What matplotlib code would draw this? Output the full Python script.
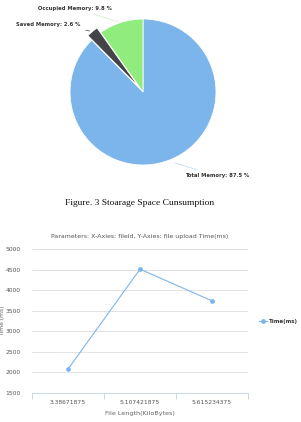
import matplotlib.pyplot as plt
import numpy as np

# pie data
mem_labels = ['Total Memory', 'Saved Memory', 'Occupied Memory']
mem_pct = [87.5, 2.6, 9.8]
mem_colors = ['#7cb5ec', '#434348', '#90ed7d']

# line data
file_len = ['3.38671875', '5.107421875', '5.615234375']
upload_ms = [2080, 4510, 3740]
yticks = [1500, 2000, 2500, 3000, 3500, 4000, 4500, 5000]

W, H = 301, 422
fig = plt.figure(figsize=(W / 100, H / 100), dpi=100)
fig.patch.set_facecolor('white')

def box(x0, y0, w, h):
    # pixel box (top-left origin) -> figure fraction
    return [x0 / W, 1 - (y0 + h) / H, w / W, h / H]

# ---- pie ----
ax1 = fig.add_axes(box(70, 19, 146, 146))
wedges, _ = ax1.pie(mem_pct, colors=mem_colors, startangle=90, counterclock=False,
                    explode=[0, 0.08, 0], radius=1,
                    wedgeprops=dict(edgecolor='white', linewidth=0.6))
for w in wedges:
    w.set_clip_on(False)
ax1.set_xlim(-1, 1)
ax1.set_ylim(-1, 1)
ax1.set_aspect('equal')
ax1.axis('off')

lab_kw = dict(fontsize=3.8, color='#333333', fontweight='bold', annotation_clip=False)
ax1.annotate('Occupied Memory: 9.8 %', xy=(-0.31, 0.95), xytext=(-0.43, 1.15),
             ha='right', va='center',
             arrowprops=dict(arrowstyle='-', color='#c8f0c0', lw=0.5), **lab_kw)
ax1.annotate('Saved Memory: 2.6 %', xy=(-0.69, 0.83), xytext=(-0.86, 0.92),
             ha='right', va='center',
             arrowprops=dict(arrowstyle='-', color='#434348', lw=0.5), **lab_kw)
ax1.annotate('Total Memory: 87.5 %', xy=(0.4, -0.96), xytext=(0.57, -1.15),
             ha='left', va='center',
             arrowprops=dict(arrowstyle='-', color='#b8d8f4', lw=0.5), **lab_kw)

# caption
fig.text(140 / W, 1 - 203 / H, 'Figure. 3 Stoarage Space Cunsumption',
         ha='center', va='center', fontsize=6.8, family='Liberation Serif', color='#111111')

# ---- line chart ----
ax2 = fig.add_axes(box(32, 249, 216, 144))
x = np.arange(len(file_len))
ax2.plot(x, upload_ms, color='#7cb5ec', lw=0.8, marker='o', ms=2.4, label='Time(ms)')
ax2.set_xlim(-0.5, len(file_len) - 0.5)
ax2.set_ylim(yticks[0], yticks[-1])
ax2.set_yticks(yticks)
ax2.set_xticks(x)
ax2.set_xticklabels(file_len)
ax2.set_xticks(np.arange(len(file_len) + 1) - 0.5, minor=True)
ax2.yaxis.grid(True, color='#e3e3e3', lw=0.7)
ax2.set_axisbelow(True)
for s in ['top', 'right', 'left']:
    ax2.spines[s].set_visible(False)
ax2.spines['bottom'].set_color('#c0d0e0')
ax2.spines['bottom'].set_linewidth(0.6)
ax2.tick_params(axis='y', length=0, labelsize=4.3, labelcolor='#555555', pad=8)
ax2.tick_params(axis='x', which='major', length=0, labelsize=4.3, labelcolor='#555555', pad=5)
ax2.tick_params(axis='x', which='minor', length=4, color='#c0d0e0', width=0.6)
ax2.set_title('Parameters: X-Axies: fileld, Y-Axies: file upload Time(ms)',
              fontsize=4.5, color='#555555', pad=8)
ax2.set_xlabel('File Length(KiloBytes)', fontsize=4.6, color='#666666', labelpad=4)
fig.text(3 / W, 1 - 321 / H, 'Time (ms)', rotation=90, ha='center', va='center',
         fontsize=4.3, color='#666666')
leg = ax2.legend(loc='center left', bbox_to_anchor=(1.04, 0.5), frameon=False,
                 fontsize=4.0, handlelength=1.4, handletextpad=0.3, borderpad=0)
for t in leg.get_texts():
    t.set_fontweight('bold')
    t.set_color('#333333')

fig.savefig('out.png', dpi=100)
